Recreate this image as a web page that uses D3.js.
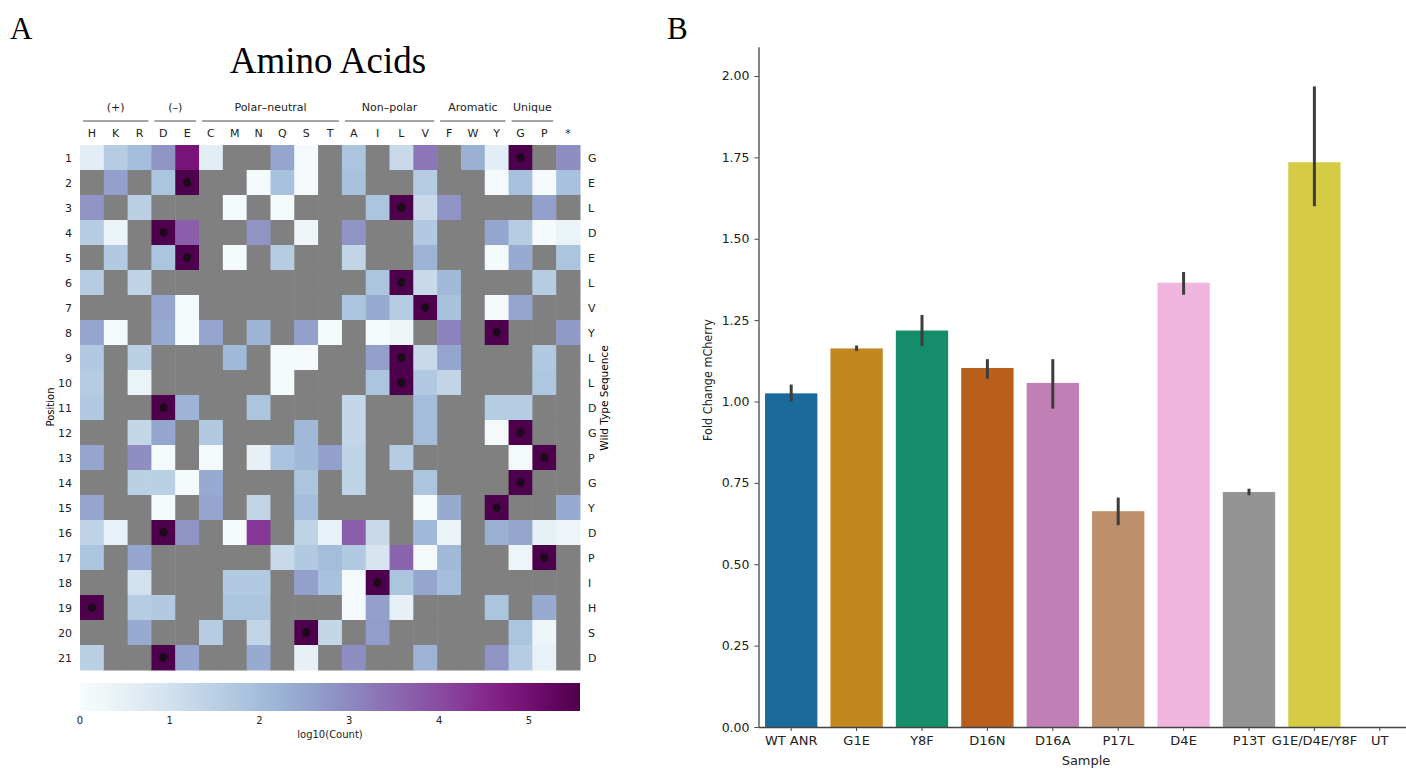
<!DOCTYPE html>
<html>
<head>
<meta charset="utf-8">
<script src="https://cdn.jsdelivr.net/npm/d3@7"></script>
<style>
  body { margin: 0; background: #fff; }
  svg { display: block; font-family: "DejaVu Sans", sans-serif; }
</style>
</head>
<body>
<svg id="chart" width="1406" height="771"></svg>
<script>
'use strict';

// ---- heatmap data ----
var aminoAcids = ['H','K','R','D','E','C','M','N','Q','S','T','A','I','L','V','F','W','Y','G','P','*'];
var positions = d3.range(1, 22);
var wildType = ['G','E','L','D','E','L','V','Y','L','L','D','G','P','G','Y','D','P','I','H','S','D'];
var groups = [
  { name: '(+)', from: 0, to: 2 },
  { name: '(\u2013)', from: 3, to: 4 },
  { name: 'Polar\u2013neutral', from: 5, to: 10 },
  { name: 'Non\u2013polar', from: 11, to: 14 },
  { name: 'Aromatic', from: 15, to: 17 },
  { name: 'Unique', from: 18, to: 19 }
];
var n = null;
// log10(count) per position (rows) and substituted amino acid (columns); null = not observed
var logCounts = [
  [0.6,1.6,2.0,2.8,4.9,0.6,n,n,2.5,0.1,n,1.8,n,1.2,3.3,n,2.3,0.6,5.57,n,2.9],
  [n,2.6,n,1.8,5.57,n,n,0.1,1.9,0.1,n,1.9,n,n,1.6,n,n,0.1,1.9,0.1,1.9],
  [2.8,n,1.5,n,n,n,0.1,n,0.1,n,n,n,1.8,5.57,1.2,2.8,n,n,n,2.6,n],
  [1.6,0.4,n,5.57,3.7,n,n,2.8,n,0.3,n,2.8,n,n,1.7,n,n,2.5,1.6,0.1,0.4],
  [n,1.7,n,1.8,5.57,n,0.1,n,1.6,n,n,1.35,n,n,2.2,n,n,0.1,2.4,n,1.8],
  [1.6,n,1.4,n,n,n,n,n,n,n,n,n,1.8,5.57,1.2,2.1,n,n,n,1.6,n],
  [n,n,n,2.5,0.1,n,n,n,n,n,n,1.8,2.4,1.6,5.57,1.9,n,0.1,2.5,n,n],
  [2.5,0.1,n,2.4,0.1,2.5,n,2.2,n,2.6,0.1,n,0.1,0.3,n,3.1,n,5.57,n,n,2.7],
  [1.7,n,1.5,n,n,n,2.1,n,0.1,0.1,n,n,2.6,5.57,1.2,2.5,n,n,n,1.7,n],
  [1.6,n,0.4,n,n,n,n,n,0.1,n,n,n,1.8,5.57,1.7,1.35,n,n,n,1.75,n],
  [1.7,n,n,5.57,2.2,n,n,1.8,n,n,n,1.3,n,n,2.0,n,n,1.6,1.6,n,n],
  [n,n,1.3,2.5,n,1.7,n,n,n,2.1,n,1.3,n,n,2.0,n,n,0.1,5.57,n,n],
  [2.5,n,2.9,0.1,n,0.1,n,0.5,1.85,2.1,2.6,1.4,n,1.6,n,n,n,n,0.1,5.57,n],
  [n,n,1.5,1.5,0.1,2.4,n,n,n,1.8,n,1.4,n,n,1.8,n,n,n,5.57,n,n],
  [2.5,n,n,0.1,n,2.5,n,1.35,n,2.0,n,n,n,n,0.1,2.4,n,5.57,n,n,2.4],
  [1.4,0.45,n,5.57,2.8,n,0.1,4.3,n,1.4,0.45,3.7,1.2,n,2.1,0.4,n,2.3,2.5,0.5,0.3],
  [1.8,n,2.5,n,n,n,n,n,1.2,1.7,2.0,1.7,0.9,3.6,0.1,2.1,n,n,0.3,5.57,n],
  [n,n,1.0,n,n,n,1.7,1.7,n,2.6,1.9,0.1,5.57,1.8,2.5,2.0,n,n,n,n,n],
  [5.57,n,1.6,1.7,n,n,1.8,1.8,n,n,n,0.1,2.6,0.5,n,n,n,1.8,n,2.4,n],
  [n,n,2.4,n,n,1.6,n,1.35,n,5.57,1.3,n,2.65,n,n,n,n,n,1.8,0.3,n],
  [1.5,n,n,5.57,2.5,n,n,2.4,n,0.5,n,2.9,n,n,2.2,n,n,2.8,1.6,0.45,n]
];
var colorMax = 5.57;
var colorTicks = [0, 1, 2, 3, 4, 5];

// ---- bar chart data ----
var samples = ['WT ANR','G1E','Y8F','D16N','D16A','P17L','D4E','P13T','G1E/D4E/Y8F','UT'];
var foldChange = [1.025, 1.163, 1.218, 1.103, 1.057, 0.663, 1.365, 0.722, 1.735, 0];
var errLow = [1.000, 1.155, 1.170, 1.070, 0.978, 0.620, 1.328, 0.712, 1.600, 0];
var errHigh = [1.052, 1.172, 1.266, 1.130, 1.130, 0.705, 1.398, 0.732, 1.968, 0];
var barColors = ['#1a6b9c','#c2871f','#158c6a','#b95f1c','#c27fb6','#bd906b','#f1b6e0','#949494','#d5cb45','#5aa7d6'];
var yTicks = [0, 0.25, 0.5, 0.75, 1.0, 1.25, 1.5, 1.75, 2.0];

var svg = d3.select('#chart');

// panel letters
svg.append('text').attr('x', 10).attr('y', 39)
  .style('font-family', '"Liberation Serif", serif').style('font-size', '31px').text('A');
svg.append('text').attr('x', 667).attr('y', 39)
  .style('font-family', '"Liberation Serif", serif').style('font-size', '31px').text('B');

// ================= heatmap =================
var hx = d3.scaleBand().domain(aminoAcids).range([80, 580]);
var hy = d3.scaleBand().domain(positions).range([145, 670]);
var color = function(v) { return d3.interpolateBuPu(Math.min(1, v / colorMax)); };

svg.append('text')
  .attr('x', 328).attr('y', 73).attr('text-anchor', 'middle')
  .style('font-family', '"Liberation Serif", serif').style('font-size', '37px')
  .text('Amino Acids');

var heat = svg.append('g').attr('class', 'heat');
positions.forEach(function(p, i) {
  heat.selectAll(null).data(aminoAcids).enter().append('rect')
    .attr('x', function(a) { return hx(a); })
    .attr('y', hy(p))
    .attr('width', hx.bandwidth() + 0.5)
    .attr('height', hy.bandwidth() + 0.5)
    .attr('fill', function(a, j) {
      var v = logCounts[i][j];
      return v === null ? '#808080' : color(v);
    });
});

// wild type markers
heat.selectAll('ellipse').data(positions).enter().append('ellipse')
  .attr('cx', function(p, i) { return hx(wildType[i]) + hx.bandwidth() / 2; })
  .attr('cy', function(p) { return hy(p) + hy.bandwidth() / 2; })
  .attr('rx', 4).attr('ry', 4.5)
  .attr('fill', '#1c0a1c');

// column labels
svg.append('g').selectAll('text').data(aminoAcids).enter().append('text')
  .attr('x', function(a) { return hx(a) + hx.bandwidth() / 2; })
  .attr('y', 137).attr('text-anchor', 'middle')
  .style('font-size', '11px').attr('fill', '#222')
  .text(function(a) { return a; });

// group labels + lines
var grp = svg.append('g');
grp.selectAll('text').data(groups).enter().append('text')
  .attr('x', function(g) { return (hx(aminoAcids[g.from]) + hx(aminoAcids[g.to]) + hx.bandwidth()) / 2; })
  .attr('y', 111).attr('text-anchor', 'middle')
  .style('font-size', '11px').attr('fill', '#222')
  .text(function(g) { return g.name; });
grp.selectAll('line').data(groups).enter().append('line')
  .attr('x1', function(g) { return hx(aminoAcids[g.from]) + 3; })
  .attr('x2', function(g) { return hx(aminoAcids[g.to]) + hx.bandwidth() - 3; })
  .attr('y1', 121).attr('y2', 121)
  .attr('stroke', '#888').attr('stroke-width', 1.6);

// row labels
svg.append('g').selectAll('text').data(positions).enter().append('text')
  .attr('x', 72).attr('y', function(p) { return hy(p) + hy.bandwidth() / 2 + 4; })
  .attr('text-anchor', 'end').style('font-size', '11px').attr('fill', '#222')
  .text(function(p) { return p; });
svg.append('g').selectAll('text').data(wildType).enter().append('text')
  .attr('x', 588).attr('y', function(w, i) { return hy(positions[i]) + hy.bandwidth() / 2 + 4; })
  .style('font-size', '11px').attr('fill', '#222')
  .text(function(w) { return w; });

svg.append('text')
  .attr('transform', 'translate(54,407) rotate(-90)').attr('text-anchor', 'middle')
  .style('font-size', '10px').text('Position');
svg.append('text')
  .attr('transform', 'translate(608,398) rotate(-90)').attr('text-anchor', 'middle')
  .style('font-size', '10.5px').text('Wild Type Sequence');

// colorbar
var cbScale = d3.scaleLinear().domain([0, colorMax]).range([80, 580]);
var grad = svg.append('defs').append('linearGradient').attr('id', 'cbgrad');
d3.range(0, 1.0001, 0.05).forEach(function(t) {
  grad.append('stop').attr('offset', (t * 100) + '%').attr('stop-color', d3.interpolateBuPu(t));
});
svg.append('rect').attr('x', 80).attr('y', 683).attr('width', 500).attr('height', 28)
  .attr('fill', 'url(#cbgrad)');
svg.append('g').selectAll('text').data(colorTicks).enter().append('text')
  .attr('x', function(d) { return cbScale(d); }).attr('y', 724)
  .attr('text-anchor', 'middle').style('font-size', '10px').attr('fill', '#222')
  .text(function(d) { return d; });
svg.append('text').attr('x', 330).attr('y', 738).attr('text-anchor', 'middle')
  .style('font-size', '10px').attr('fill', '#222').text('log10(Count)');

// ================= bar chart =================
var bx = d3.scaleBand().domain(samples).range([758.5, 1412.5]).paddingInner(0.2).paddingOuter(0.1);
var by = d3.scaleLinear().domain([0, 2.09]).range([727, 46.7]);

var bars = svg.append('g');
bars.selectAll('rect').data(samples).enter().append('rect')
  .attr('x', function(s) { return bx(s); })
  .attr('width', bx.bandwidth())
  .attr('y', function(s, i) { return by(foldChange[i]); })
  .attr('height', function(s, i) { return by(0) - by(foldChange[i]); })
  .attr('fill', function(s, i) { return barColors[i]; });

bars.selectAll('line').data(samples.filter(function(s, i) { return foldChange[i] > 0; }))
  .enter().append('line')
  .attr('x1', function(s) { return bx(s) + bx.bandwidth() / 2; })
  .attr('x2', function(s) { return bx(s) + bx.bandwidth() / 2; })
  .attr('y1', function(s) { return by(errLow[samples.indexOf(s)]); })
  .attr('y2', function(s) { return by(errHigh[samples.indexOf(s)]); })
  .attr('stroke', '#3d3d3d').attr('stroke-width', 3);

var yAxis = svg.append('g').attr('transform', 'translate(758.5,0)')
  .call(d3.axisLeft(by).tickValues(yTicks).tickFormat(d3.format('.2f')).tickSize(4).tickPadding(5).tickSizeOuter(0));
var xAxis = svg.append('g').attr('transform', 'translate(0,727)')
  .call(d3.axisBottom(bx).tickSize(4).tickPadding(5).tickSizeOuter(0));
[yAxis, xAxis].forEach(function(ax) {
  ax.select('.domain').attr('stroke', '#444').attr('stroke-width', 1.3);
  ax.selectAll('.tick line').attr('stroke', '#444');
  ax.selectAll('.tick text').attr('fill', '#222').style('font-family', '"DejaVu Sans", sans-serif');
});
yAxis.selectAll('.tick text').style('font-size', '12.5px');
xAxis.selectAll('.tick text').style('font-size', '13px');

svg.append('text')
  .attr('transform', 'translate(712,380) rotate(-90)').attr('text-anchor', 'middle')
  .style('font-size', '12.5px').style('font-stretch', 'condensed').attr('fill', '#222')
  .text('Fold Change mCherry');
svg.append('text').attr('x', 1086).attr('y', 765).attr('text-anchor', 'middle')
  .style('font-size', '13px').attr('fill', '#222')
  .text('Sample');
</script>
</body>
</html>
